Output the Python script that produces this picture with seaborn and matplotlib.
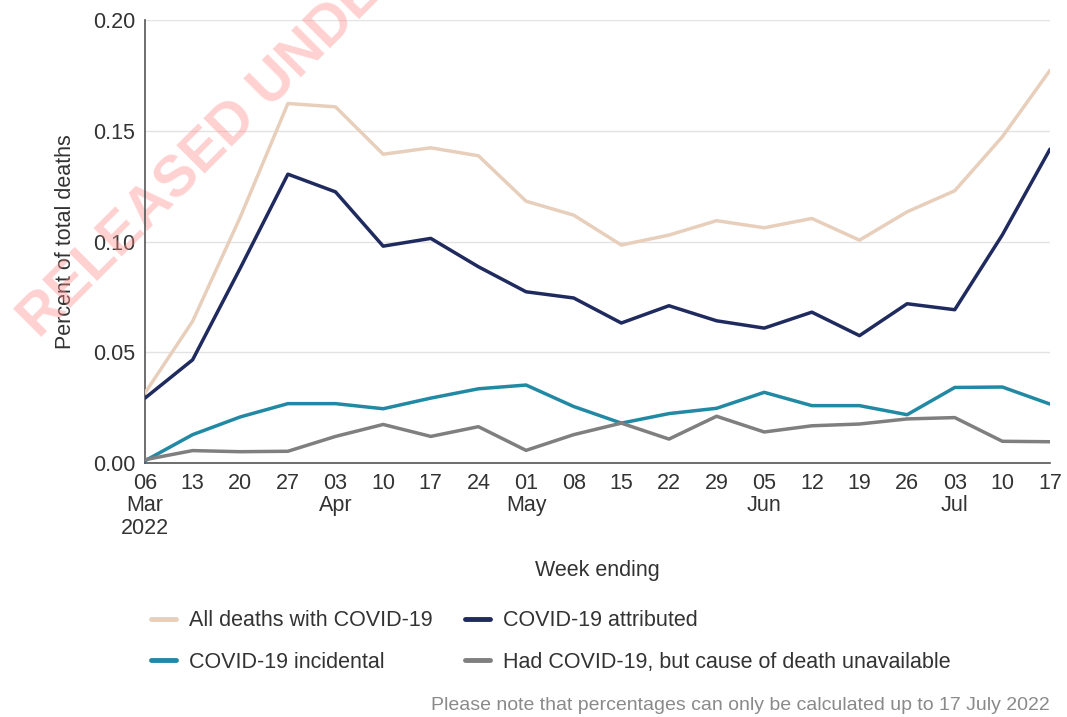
import pandas as pd
import numpy as np
import matplotlib
matplotlib.use("Agg")
import matplotlib.pyplot as plt
import seaborn as sns
from matplotlib.lines import Line2D

# --- data ---
weeks = pd.date_range("2022-03-06", "2022-07-17", freq="7D")
week_labels = ["06\nMar\n2022", "13", "20", "27", "03\nApr", "10", "17", "24",
               "01\nMay", "08", "15", "22", "29", "05\nJun", "12", "19", "26",
               "03\nJul", "10", "17"]

all_deaths = [0.0316, 0.064, 0.111, 0.1623, 0.1608, 0.1394, 0.1423, 0.1387,
              0.1182, 0.1119, 0.0984, 0.1029, 0.1094, 0.1062, 0.1104, 0.1006,
              0.1134, 0.1229, 0.1473, 0.1773]
attributed = [0.0293, 0.0466, 0.088, 0.1304, 0.1224, 0.0979, 0.1014, 0.0886,
              0.0773, 0.0745, 0.0632, 0.071, 0.0642, 0.0609, 0.0681, 0.0575,
              0.0719, 0.0692, 0.103, 0.1417]
incidental = [0.001, 0.0128, 0.0208, 0.0268, 0.0268, 0.0245, 0.0293, 0.0335,
              0.0352, 0.0255, 0.018, 0.0223, 0.0247, 0.0319, 0.0259, 0.0259,
              0.0218, 0.0341, 0.0343, 0.0266]
unavailable = [0.0015, 0.0056, 0.0051, 0.0053, 0.012, 0.0174, 0.012, 0.0164,
               0.0057, 0.0128, 0.018, 0.0108, 0.0211, 0.014, 0.0168, 0.0176,
               0.0199, 0.0205, 0.0098, 0.0096]

series_names = ["All deaths with COVID-19", "COVID-19 attributed",
                "COVID-19 incidental", "Had COVID-19, but cause of death unavailable"]
colours = ["#e8cfbc", "#1f2a5e", "#2189a3", "#7f7f7f"]

df = pd.concat([
    pd.DataFrame({"week": weeks, "value": vals, "series": name})
    for name, vals in zip(series_names, [all_deaths, attributed, incidental, unavailable])
])

# --- style ---
sns.set_style("white")
plt.rcParams["font.family"] = ["Liberation Sans", "DejaVu Sans"]
plt.rcParams["font.size"] = 15.5
txt = "#333333"

fig = plt.figure(figsize=(10.67, 7.17), dpi=100)
ax = fig.add_axes([145 / 1067, 1 - 463 / 717, 905 / 1067, 443 / 717])

sns.lineplot(data=df, x="week", y="value", hue="series",
             palette=dict(zip(series_names, colours)), hue_order=series_names,
             linewidth=2.5, legend=False, ax=ax, zorder=3)

ax.set_xlim(weeks[0], weeks[-1])
ax.set_ylim(0, 0.2)
ax.set_yticks([0, 0.05, 0.10, 0.15, 0.20])
ax.set_yticklabels(["0.00", "0.05", "0.10", "0.15", "0.20"])
ax.set_xticks(weeks)
ax.set_xticklabels(week_labels, linespacing=1.1)

ax.grid(axis="y", color="#e3e3e3", linewidth=1)
ax.set_axisbelow(True)
for side in ["top", "right"]:
    ax.spines[side].set_visible(False)
for side in ["left", "bottom"]:
    ax.spines[side].set_color("#555555")
    ax.spines[side].set_linewidth(1.2)
ax.tick_params(axis="both", direction="out", length=5, width=1, color="#555555",
               labelsize=15.5, labelcolor=txt, pad=2)

ax.set_xlabel("Week ending", fontsize=15.5, color=txt, labelpad=15)
ax.set_ylabel("Percent of total deaths", fontsize=15.5, color=txt, labelpad=12)

# --- legend below ---
handles = [Line2D([0], [0], color=c, linewidth=3.5) for c in colours]
order = [0, 2, 1, 3]
fig.legend([handles[i] for i in order], [series_names[i] for i in order],
           loc="upper left", bbox_to_anchor=(132 / 1067, 1 - 591 / 717),
           ncol=2, frameon=False, fontsize=15.5, handlelength=1.15,
           handletextpad=0.6, columnspacing=1.5, labelspacing=0.95,
           labelcolor=txt)

fig.text(1050 / 1067, 1 - 706 / 717,
         "Please note that percentages can only be calculated up to 17 July 2022",
         ha="right", va="center", fontsize=14, color="#8a8a8a")

# --- watermark (behind the lines) ---
ax.text(40 / 1067, 1 - 340 / 717, "RELEASED UNDER", transform=fig.transFigure,
        rotation=45, rotation_mode="anchor", ha="left", va="baseline",
        fontsize=41, fontweight="bold", color="#ff8c8c", alpha=0.4,
        clip_on=False, zorder=1)

fig.savefig("out.png", dpi=100)
